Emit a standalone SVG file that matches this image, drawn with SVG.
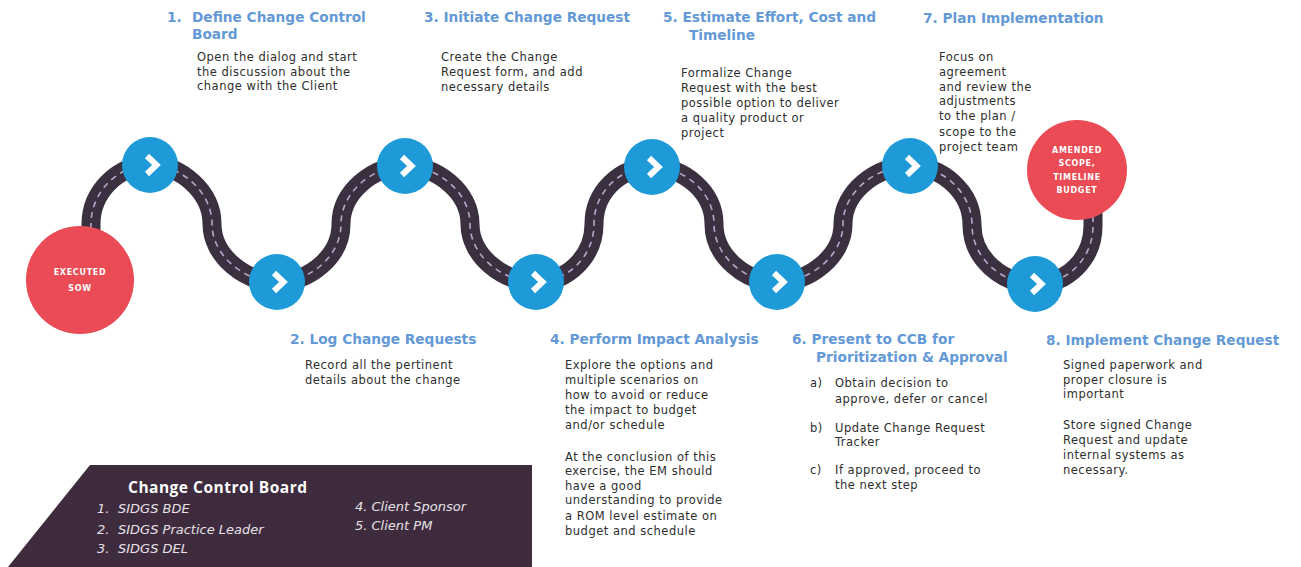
<svg xmlns="http://www.w3.org/2000/svg" width="1301" height="567" viewBox="0 0 1301 567">
<style>
.title{font-family:"DejaVu Sans",Verdana,sans-serif;font-weight:bold;font-size:13.7px;fill:#6399d6}
.body{font-family:"DejaVu Sans",Verdana,sans-serif;font-size:11.5px;letter-spacing:0.5px;fill:#2e2e2e}
.red{font-family:"DejaVu Sans",Verdana,sans-serif;font-weight:bold;font-size:8px;fill:#ffffff;text-anchor:middle;letter-spacing:0.7px}
.board-h{font-family:"Open Sans","DejaVu Sans",sans-serif;font-weight:bold;font-size:15.5px;letter-spacing:0.5px;fill:#ffffff}
.board-i{font-family:"DejaVu Sans",Verdana,sans-serif;font-style:italic;font-size:13px;fill:#e6e2e6}
.blue{fill:#1d9ad7}
.redc{fill:#ea4b54}
</style>
<defs>
<g id="chev"><path d="M-5,-9 L4.5,0 L-5,9" fill="none" stroke="#ffffff" stroke-width="6" stroke-linejoin="miter"/></g>
</defs>
<rect width="1301" height="567" fill="#ffffff"/>

<g id="connectors">
<path d="M91,240 L91,224 C91,192 118,165 150,165 C181,165 212,192 212,224 C212,256 245,282 277,282 C310,282 341,256 341,224 C341,192 373,166 405,166 C437,166 470,192 470,224 C470,256 503,282 536,282 C568,282 594,256 594,224 C594,192 620,167 652,167 C684,167 714,192 714,224 C714,256 745,282 777,282 C810,282 843,256 843,224 C843,192 876,166 910,166 C942,166 972,192 972,225 C972,258 1002,284 1035,284 C1068,284 1093,258 1093,226 L1093,200" fill="none" stroke="#3a3040" stroke-width="19"/>
<path d="M91,240 L91,224 C91,192 118,165 150,165 C181,165 212,192 212,224 C212,256 245,282 277,282 C310,282 341,256 341,224 C341,192 373,166 405,166 C437,166 470,192 470,224 C470,256 503,282 536,282 C568,282 594,256 594,224 C594,192 620,167 652,167 C684,167 714,192 714,224 C714,256 745,282 777,282 C810,282 843,256 843,224 C843,192 876,166 910,166 C942,166 972,192 972,225 C972,258 1002,284 1035,284 C1068,284 1093,258 1093,226 L1093,200" fill="none" stroke="#b9a6cc" stroke-width="1.6" stroke-dasharray="6 5"/>
</g>

<g id="start">
<circle class="redc" cx="80" cy="280" r="54"/>
<text class="red" x="80" y="275">EXECUTED</text>
<text class="red" x="80" y="291">SOW</text>
</g>

<g id="end">
<circle class="redc" cx="1077" cy="170" r="50"/>
<text class="red" x="1077" y="153">AMENDED</text>
<text class="red" x="1077" y="166">SCOPE,</text>
<text class="red" x="1077" y="180">TIMELINE</text>
<text class="red" x="1077" y="193">BUDGET</text>
</g>

<g id="step1">
<circle class="blue" cx="150" cy="165" r="28"/><use href="#chev" x="152" y="165"/>
<text class="title" x="167" y="22">1.</text>
<text class="title" x="192" y="22">Define Change Control</text>
<text class="title" x="192" y="39">Board</text>
<text class="body" x="197" y="61">Open the dialog and start</text>
<text class="body" x="197" y="76">the discussion about the</text>
<text class="body" x="197" y="90">change with the Client</text>
</g>

<g id="step2">
<circle class="blue" cx="277" cy="282" r="28"/><use href="#chev" x="279" y="282"/>
<text class="title" x="290" y="344">2. Log Change Requests</text>
<text class="body" x="305" y="369">Record all the pertinent</text>
<text class="body" x="305" y="384">details about the change</text>
</g>

<g id="step3">
<circle class="blue" cx="405" cy="166" r="28"/><use href="#chev" x="407" y="166"/>
<text class="title" x="424" y="22">3. Initiate Change Request</text>
<text class="body" x="441" y="61">Create the Change</text>
<text class="body" x="441" y="76">Request form, and add</text>
<text class="body" x="441" y="91">necessary details</text>
</g>

<g id="step4">
<circle class="blue" cx="536" cy="282" r="28"/><use href="#chev" x="538" y="282"/>
<text class="title" x="550" y="344">4. Perform Impact Analysis</text>
<text class="body" x="565" y="369">Explore the options and</text>
<text class="body" x="565" y="384">multiple scenarios on</text>
<text class="body" x="565" y="399">how to avoid or reduce</text>
<text class="body" x="565" y="414">the impact to budget</text>
<text class="body" x="565" y="429">and/or schedule</text>
<text class="body" x="565" y="461">At the conclusion of this</text>
<text class="body" x="565" y="475">exercise, the EM should</text>
<text class="body" x="565" y="490">have a good</text>
<text class="body" x="565" y="504">understanding to provide</text>
<text class="body" x="565" y="520">a ROM level estimate on</text>
<text class="body" x="565" y="535">budget and schedule</text>
</g>

<g id="step5">
<circle class="blue" cx="652" cy="167" r="28"/><use href="#chev" x="654" y="167"/>
<text class="title" x="663" y="22">5. Estimate Effort, Cost and</text>
<text class="title" x="689" y="40">Timeline</text>
<text class="body" x="681" y="77">Formalize Change</text>
<text class="body" x="681" y="92">Request with the best</text>
<text class="body" x="681" y="107">possible option to deliver</text>
<text class="body" x="681" y="122">a quality product or</text>
<text class="body" x="681" y="137">project</text>
</g>

<g id="step6">
<circle class="blue" cx="777" cy="282" r="28"/><use href="#chev" x="779" y="282"/>
<text class="title" x="792" y="344">6. Present to CCB for</text>
<text class="title" x="816" y="362">Prioritization &amp; Approval</text>
<text class="body" x="810" y="387">a)</text>
<text class="body" x="835" y="387">Obtain decision to</text>
<text class="body" x="835" y="403">approve, defer or cancel</text>
<text class="body" x="810" y="432">b)</text>
<text class="body" x="835" y="432">Update Change Request</text>
<text class="body" x="835" y="446">Tracker</text>
<text class="body" x="810" y="474">c)</text>
<text class="body" x="835" y="474">If approved, proceed to</text>
<text class="body" x="835" y="489">the next step</text>
</g>

<g id="step7">
<circle class="blue" cx="910" cy="166" r="28"/><use href="#chev" x="912" y="166"/>
<text class="title" x="923" y="23">7. Plan Implementation</text>
<text class="body" x="939" y="61">Focus on</text>
<text class="body" x="939" y="76">agreement</text>
<text class="body" x="939" y="91">and review the</text>
<text class="body" x="939" y="105">adjustments</text>
<text class="body" x="939" y="120">to the plan /</text>
<text class="body" x="939" y="136">scope to the</text>
<text class="body" x="939" y="151">project team</text>
</g>

<g id="step8">
<circle class="blue" cx="1035" cy="284" r="28"/><use href="#chev" x="1037" y="284"/>
<text class="title" x="1046" y="345">8. Implement Change Request</text>
<text class="body" x="1063" y="369">Signed paperwork and</text>
<text class="body" x="1063" y="384">proper closure is</text>
<text class="body" x="1063" y="398">important</text>
<text class="body" x="1063" y="429">Store signed Change</text>
<text class="body" x="1063" y="444">Request and update</text>
<text class="body" x="1063" y="459">internal systems as</text>
<text class="body" x="1063" y="474">necessary.</text>
</g>

<g id="board">
<polygon points="90,465 532,465 532,567 8,567" fill="#3e2b3e"/>
<text class="board-h" x="128" y="493">Change Control Board</text>
<text class="board-i" x="97" y="513">1.</text>
<text class="board-i" x="118" y="513">SIDGS BDE</text>
<text class="board-i" x="97" y="534">2.</text>
<text class="board-i" x="118" y="534">SIDGS Practice Leader</text>
<text class="board-i" x="97" y="553">3.</text>
<text class="board-i" x="118" y="553">SIDGS DEL</text>
<text class="board-i" x="355" y="511">4. Client Sponsor</text>
<text class="board-i" x="355" y="530">5. Client PM</text>
</g>
</svg>
